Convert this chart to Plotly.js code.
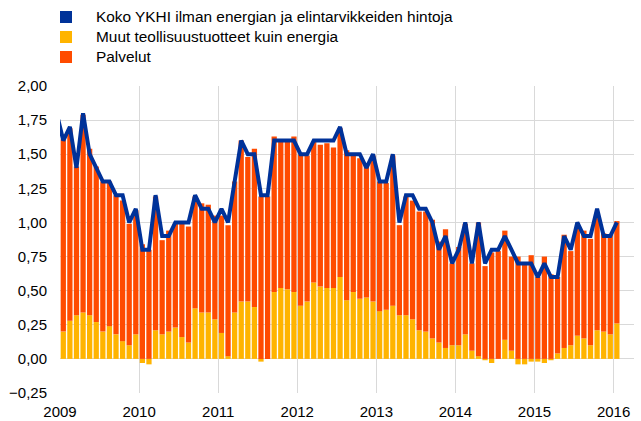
<!DOCTYPE html>
<html>
<head>
<meta charset="utf-8">
<script src="https://cdn.plot.ly/plotly-3.0.1.min.js"></script>
<style>html,body{margin:0;padding:0;background:#fff}#chart{width:641px;height:421px}</style>
</head>
<body>
<div id="chart"></div>
<script>
// Monthly data Jan 2009 .. Jan 2016 (index 0..84)
const goods = [0.20,0.28,0.32,0.34,0.32,0.27,0.20,0.24,0.18,0.13,0.10,0.18,
  -0.03,-0.04,0.21,0.18,0.20,0.23,0.16,0.12,0.37,0.34,0.34,0.29,
  0.19,0.02,0.34,0.42,0.42,0.38,-0.02,0.00,0.49,0.52,0.51,0.49,
  0.39,0.42,0.56,0.53,0.52,0.52,0.60,0.43,0.49,0.44,0.45,0.42,
  0.35,0.36,0.39,0.32,0.32,0.29,0.21,0.20,0.15,0.12,0.08,0.10,
  0.10,0.18,0.06,0.02,-0.01,-0.03,0.00,0.14,0.06,-0.04,-0.04,-0.02,
  -0.02,-0.03,-0.01,0.04,0.08,0.10,0.17,0.15,0.10,0.21,0.20,0.18,
  0.26];
const services = [1.41,1.41,1.09,1.45,1.22,1.14,1.10,1.06,1.02,1.03,0.89,0.91,
  0.84,0.80,0.98,0.69,0.74,0.76,0.83,0.85,0.82,0.80,0.79,0.76,
  0.86,0.96,0.96,1.18,1.06,1.16,1.19,1.19,1.14,1.08,1.09,1.14,
  1.11,1.07,1.03,1.04,1.06,1.03,1.09,1.10,1.00,1.03,0.98,1.07,
  0.95,0.93,1.10,0.66,0.87,0.87,0.87,0.88,0.87,0.74,0.87,0.60,
  0.72,0.81,0.64,0.98,0.68,0.78,0.79,0.80,0.69,0.75,0.70,0.76,
  0.60,0.75,0.62,0.56,0.83,0.69,0.79,0.79,0.78,0.84,0.72,0.73,
  0.75];
// Core line, Dec 2008 .. Jan 2016 (first value is Dec 2008, clipped at the left edge)
const coreTotal = [1.8,
  1.6,1.7,1.4,1.8,1.5,1.4,1.3,1.3,1.2,1.2,1.0,1.1,
  0.8,0.8,1.2,0.9,0.9,1.0,1.0,1.0,1.2,1.1,1.1,1.0,
  1.1,1.0,1.3,1.6,1.5,1.5,1.2,1.2,1.6,1.6,1.6,1.6,
  1.5,1.5,1.6,1.6,1.6,1.6,1.7,1.5,1.5,1.5,1.4,1.5,
  1.3,1.3,1.5,1.0,1.2,1.2,1.1,1.1,1.0,0.8,0.9,0.7,
  0.8,1.0,0.7,1.0,0.7,0.8,0.8,0.9,0.8,0.7,0.7,0.7,
  0.6,0.7,0.6,0.6,0.9,0.8,1.0,0.9,0.9,1.1,0.9,0.9,
  1.0];
const years = ['2009','2010','2011','2012','2013','2014','2015','2016'];
const seriesNames = ['Koko YKHI ilman energian ja elintarvikkeiden hintoja','Muut teollisuustuotteet kuin energia','Palvelut'];
const colors = ['#003299','#FFB400','#FF4B00'];

const xBars = goods.map((_, i) => i);
const xLine = coreTotal.map((_, i) => i - 1);

const traces = [
  {type:'bar', x:xBars, y:goods, name:seriesNames[1], marker:{color:colors[1]}, showlegend:false, hoverinfo:'skip'},
  {type:'bar', x:xBars, y:services, name:seriesNames[2], marker:{color:colors[2]}, showlegend:false, hoverinfo:'skip'},
  {type:'scatter', mode:'lines', x:xLine, y:coreTotal, name:seriesNames[0], line:{color:colors[0], width:4}, showlegend:false, hoverinfo:'skip'}
];

// legend drawn as shapes + annotations
const plotL = 60, plotW = 574, plotT = 86, plotH = 307;
const px = v => (v - plotL) / plotW;
const py = v => (plotT + plotH - v) / plotH;
const shapes = [], annotations = [];
const rowY = [17, 37, 57];
rowY.forEach((cy, k) => {
  shapes.push({type:'rect', xref:'paper', yref:'paper', x0:px(60), x1:px(72), y0:py(cy+6), y1:py(cy-6), fillcolor:colors[k], line:{width:0}});
  annotations.push({xref:'paper', yref:'paper', x:px(94), y:py(cy), xanchor:'left', yanchor:'middle', text:seriesNames[k], showarrow:false, font:{family:'Liberation Sans, Arial, sans-serif', size:15.4, color:'#000'}});
});

const layout = {
  width:641, height:421,
  margin:{l:60, r:7, t:86, b:28},
  paper_bgcolor:'#fff', plot_bgcolor:'#fff',
  barmode:'relative', bargap:0.2,
  separators:',.',
  font:{family:'Liberation Sans, Arial, sans-serif', size:15, color:'#000'},
  xaxis:{range:[-0.5, 86.6], tickvals:years.map((_, k) => -0.5 + 12*k), ticktext:years,
    showgrid:true, gridcolor:'#d9d9d9', gridwidth:1, zeroline:false, showline:false,
    ticks:'outside', ticklen:5, tickcolor:'rgba(0,0,0,0)', tickfont:{size:15}},
  yaxis:{range:[-0.25, 2.0], dtick:0.25, tick0:0, tickformat:'.2f',
    showgrid:true, gridcolor:'#d9d9d9', gridwidth:1, zeroline:true, zerolinecolor:'#d9d9d9', zerolinewidth:1,
    showline:false, ticks:'outside', ticklen:9, tickcolor:'rgba(0,0,0,0)', tickfont:{size:15}},
  shapes:shapes, annotations:annotations
};

Plotly.newPlot('chart', traces, layout, {staticPlot:true, displayModeBar:false});
</script>
</body>
</html>
